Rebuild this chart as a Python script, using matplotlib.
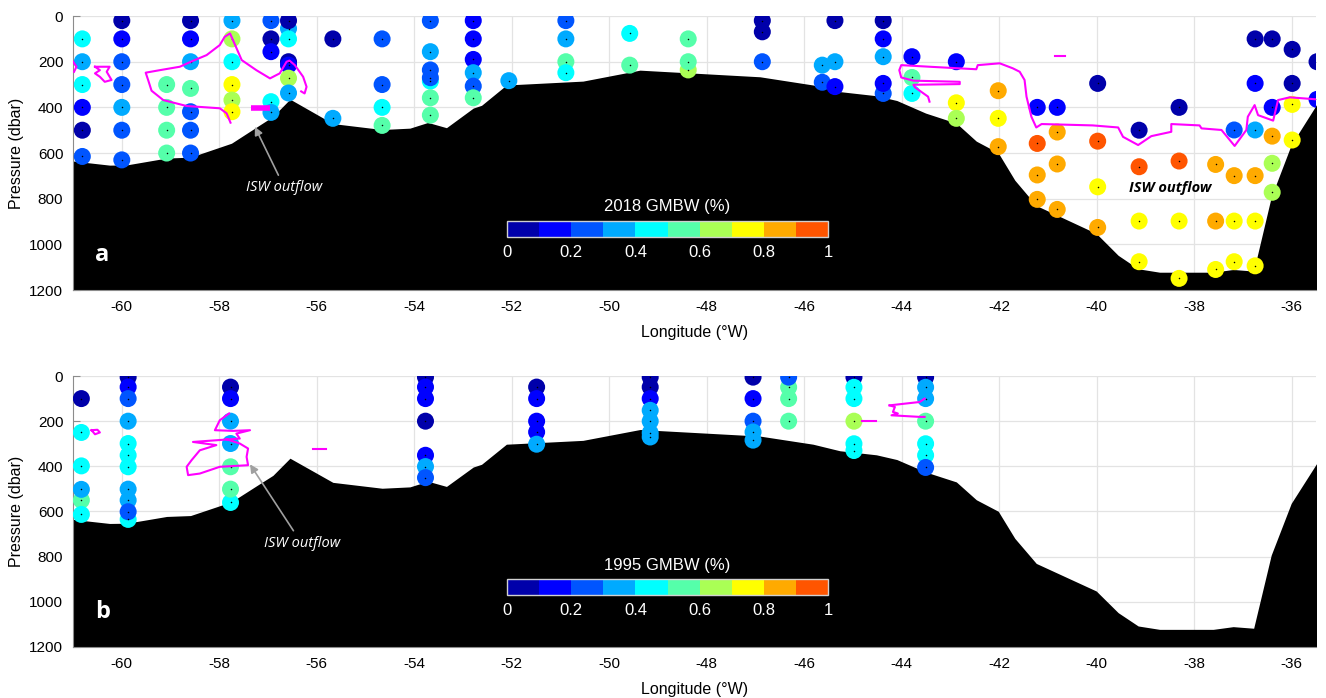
import numpy as np
import matplotlib.pyplot as plt
from matplotlib.colors import ListedColormap, BoundaryNorm
from matplotlib.cm import ScalarMappable

plt.rcParams['font.family'] = ['Liberation Sans', 'DejaVu Sans']
plt.rcParams['axes.unicode_minus'] = False

# discrete GMBW colour classes, 0..1 in steps of 0.1
gmbw_colors = ['#0000aa', '#0000ff', '#0055ff', '#00aaff', '#00ffff',
               '#55ffaa', '#aaff55', '#ffff00', '#ffaa00', '#ff5500']
cbar_ticks = [0, 0.2, 0.4, 0.6, 0.8, 1]
cbar_labels = ['0', '0.2', '0.4', '0.6', '0.8', '1']
lon_ticks = [-60, -58, -56, -54, -52, -50, -48, -46, -44, -42, -40, -38, -36]
pres_ticks = [0, 200, 400, 600, 800, 1000, 1200]

# sea floor along the section
bathy_lon = [-61.0, -60.25, -59.9, -59.08, -58.59, -57.75, -57.17, -56.9, -56.55,
             -55.67, -54.66, -54.09, -53.72, -53.34, -52.79, -52.62, -52.11,
             -50.54, -49.37, -46.91, -45.82, -45.27, -44.52, -44.1, -43.51,
             -42.88, -42.47, -42.02, -41.68, -41.24, -40.01, -39.56, -39.15,
             -38.71, -37.61, -37.2, -36.78, -36.42, -36.01, -35.49]
bathy_pres = [635, 653, 652, 622, 618, 557, 477, 440, 364,
              471, 497, 491, 466, 489, 403, 391, 302,
              285, 237, 266, 302, 331, 349, 370, 425,
              469, 548, 599, 719, 830, 952, 1048, 1107,
              1122, 1122, 1110, 1117, 793, 564, 388]

# 2018 samples (station by station)
lon_2018 = ([-60.81] * 6 + [-60.0] * 7 + [-59.08] * 4 + [-58.59] * 7 + [-57.74] * 6
            + [-56.94] * 5 + [-56.58] * 7 + [-55.67] * 2 + [-54.66] * 4 + [-53.67] * 7
            + [-52.79] * 6 + [-52.06] + [-50.89] * 4 + [-49.58] * 2 + [-48.38] * 3
            + [-46.86] * 3 + [-45.63] * 2 + [-45.37] * 3 + [-44.38] * 5 + [-43.79] * 3
            + [-42.88] * 3 + [-42.02] * 3 + [-41.22] * 4 + [-40.81] * 4 + [-39.98] * 4
            + [-39.13] * 4 + [-38.31] * 4 + [-37.56] * 3 + [-37.18] * 4 + [-36.75] * 6
            + [-36.4] * 5 + [-35.99] * 4 + [-35.48] * 2)
pres_2018 = [100, 200, 300, 400, 500, 615,
             20, 100, 200, 300, 400, 500, 630,
             300, 400, 500, 600,
             20, 100, 200, 317, 419, 500, 600,
             20, 100, 200, 300, 368, 419,
             20, 100, 156, 375, 422,
             55, 20, 100, 200, 215, 272, 337,
             100, 448,
             100, 300, 400, 479,
             285, 20, 156, 236, 270, 358, 434,
             20, 100, 190, 248, 307, 358,
             283,
             20, 100, 200, 248,
             76, 215,
             100, 236, 200,
             20, 69, 200,
             215, 290,
             20, 200, 309,
             20, 100, 178, 339, 295,
             178, 339, 269,
             200, 380, 448,
             327, 448, 572,
             400, 558, 696, 803,
             400, 508, 648, 847,
             295, 548, 748, 926,
             500, 660, 898, 1076,
             400, 635, 898, 1149,
             650, 898, 1110,
             499, 699, 898, 1076,
             100, 295, 499, 699, 898, 1094,
             100, 400, 526, 645, 772,
             146, 295, 387, 543,
             200, 365]
gmbw_2018 = [.45, .35, .45, .15, .05, .25,
             .05, .15, .25, .25, .35, .25, .25,
             .55, .55, .55, .55,
             .05, .15, .35, .55, .25, .25, .25,
             .35, .65, .45, .75, .65, .75,
             .25, .05, .15, .45, .35,
             .35, .05, .45, .05, .15, .65, .35,
             .05, .35,
             .25, .25, .45, .55,
             .45, .25, .35, .25, .25, .55, .55,
             .15, .15, .15, .35, .25, .55,
             .35,
             .25, .35, .55, .45,
             .45, .55,
             .55, .65, .55,
             .05, .05, .25,
             .35, .25,
             .05, .35, .15,
             .05, .15, .35, .25, .15,
             .15, .45, .55,
             .15, .75, .65,
             .85, .75, .85,
             .15, .95, .85, .85,
             .15, .85, .85, .85,
             .05, .95, .75, .85,
             .05, .95, .75, .75,
             .05, .95, .75, .75,
             .85, .85, .75,
             .25, .85, .75, .75,
             .05, .15, .35, .85, .75, .75,
             .05, .15, .85, .65, .65,
             .05, .05, .75, .75,
             .05, .15]

# 1995 samples
lon_1995 = ([-60.83] * 6 + [-59.87] * 11 + [-57.77] * 7 + [-53.77] * 7 + [-51.49] * 5
            + [-49.16] * 7 + [-47.05] * 5 + [-46.32] * 4 + [-44.98] * 6 + [-43.51] * 7)
pres_1995 = [100, 250, 398, 550, 502, 613,
             5, 49, 100, 200, 299, 351, 402, 501, 550, 635, 601,
             49, 100, 200, 299, 560, 402, 501,
             5, 49, 100, 200, 351, 401, 450,
             49, 100, 200, 248, 302,
             5, 49, 100, 152, 200, 252, 270,
             5, 100, 200, 248, 284,
             50, 100, 200, 5,
             5, 50, 100, 200, 300, 330,
             5, 50, 100, 200, 300, 351, 405]
gmbw_1995 = [.05, .45, .45, .55, .35, .45,
             .05, .15, .25, .35, .45, .45, .45, .35, .35, .45, .25,
             .05, .15, .35, .35, .45, .55, .55,
             .05, .15, .15, .05, .15, .35, .25,
             .05, .15, .15, .15, .35,
             .05, .05, .15, .35, .35, .35, .35,
             .05, .15, .25, .35, .35,
             .55, .55, .55, .25,
             .05, .45, .45, .65, .45, .45,
             .05, .35, .35, .55, .45, .45, .25]

# ISW outflow boundary (magenta), one list per line piece
isw_lon_2018 = [
    [-61.0, -60.93, -60.98],
    [-60.55, -60.25, -60.31, -60.21, -60.35, -60.45, -60.55, -60.45, -60.55],
    [-57.77, -57.85, -57.99, -58.67, -59.15, -59.39, -59.46, -59.51, -59.22, -58.81,
     -58.54, -58.26, -57.99, -57.89, -57.78, -57.72, -57.54, -57.24, -56.96, -56.76,
     -56.62, -56.56, -56.45, -56.28, -56.21, -56.25, -56.32],
    [-43.43, -43.46, -43.73, -43.76, -42.81, -42.81, -43.76, -44.01, -44.05, -44.01,
     -43.43, -42.47, -42.44, -41.99, -41.72, -41.58, -41.48, -41.44, -41.34, -41.24,
     -41.13, -40.08, -39.56, -39.46, -39.15, -38.88, -38.47, -38.47, -37.89, -37.85,
     -37.44, -37.17, -36.93, -36.9, -36.76, -36.69, -36.38, -36.28, -36.04, -35.48],
    [-40.86, -40.66],
]
isw_pres_2018 = [
    [200, 222, 244],
    [222, 222, 244, 280, 288, 266, 251, 237, 222],
    [467, 426, 404, 394, 368, 327, 280, 248, 237, 222,
     196, 171, 127, 91, 76, 105, 193, 237, 273, 251,
     200, 195, 215, 266, 310, 339, 330],
    [375, 353, 312, 301, 298, 288, 283, 269, 237, 215,
     222, 233, 215, 207, 229, 244, 280, 353, 441, 488,
     473, 479, 488, 529, 565, 526, 507, 473, 479, 492,
     499, 569, 499, 441, 390, 434, 458, 368, 356, 365],
    [175, 175],
]
# short thick piece next to the -57 station
isw_bar_lon = [-57.34, -56.95]
isw_bar_pres = [404, 404]

isw_lon_1995 = [
    [-60.62, -60.5, -60.45, -60.55, -60.62],
    [-57.8, -57.99, -58.09, -57.72, -57.37, -57.65, -57.58, -58.54, -58.06, -58.4,
     -58.57, -58.67, -58.64, -58.4, -57.99, -57.41, -57.44, -57.41, -57.58, -57.85],
    [-56.08, -55.82],
    [-44.81, -44.52],
    [-44.25, -43.63, -43.53],
    [-44.25, -44.14, -44.18, -44.08, -44.21, -43.63, -43.53],
]
isw_pres_1995 = [
    [240, 238, 250, 258, 240],
    [166, 196, 240, 243, 240, 255, 277, 292, 306, 329,
     373, 402, 439, 432, 402, 395, 358, 321, 299, 280],
    [323, 323],
    [200, 200],
    [130, 115, 100],
    [130, 137, 159, 166, 174, 181, 181],
]

cmap = ListedColormap(gmbw_colors)
norm = BoundaryNorm(np.linspace(0, 1, 11), cmap.N)

fig = plt.figure(figsize=(13.26, 6.98), dpi=100)
ax_a = fig.add_axes([0.0551, 0.5845, 0.9374, 0.3925])
ax_b = fig.add_axes([0.0551, 0.0731, 0.9374, 0.3882])


def draw_panel(ax, lon, pres, gmbw, c_lon, c_pres, year, letter, cbar_box):
    ax.fill_between(bathy_lon, bathy_pres, 1300, color='black', lw=0, zorder=2)
    ax.scatter(lon, pres, c=gmbw, cmap=cmap, norm=norm, s=150, lw=0, zorder=3)
    ax.scatter(lon, pres, c='black', s=1.2, lw=0, zorder=4)
    for xs, ys in zip(c_lon, c_pres):
        ax.plot(xs, ys, color='#ff00ff', lw=1.5, zorder=5)

    ax.set_xlim(-61, -35.5)
    ax.set_ylim(1200, 0)
    ax.set_xticks(lon_ticks)
    ax.set_yticks(pres_ticks)
    ax.grid(True, color='#e3e3e3', lw=0.9, zorder=0)
    ax.set_axisbelow(True)
    for s in ['top', 'right']:
        ax.spines[s].set_visible(False)
    for s in ['left', 'bottom']:
        ax.spines[s].set_color('#8c8c8c')
    ax.tick_params(direction='in', length=5, color='#8c8c8c', labelsize=11, pad=7)
    ax.set_xlabel('Longitude (°W)', fontsize=11.5, labelpad=8)
    ax.set_ylabel('Pressure (dbar)', fontsize=11.5, labelpad=4)

    ax.text(-60.4, 1045, letter, color='white', fontsize=17, fontweight='bold',
            family=['Open Sans', 'DejaVu Sans'], ha='center', va='center', zorder=6)

    cax = fig.add_axes(cbar_box)
    cb = fig.colorbar(ScalarMappable(norm=norm, cmap=cmap), cax=cax,
                      orientation='horizontal', ticks=cbar_ticks)
    cb.ax.set_xticklabels(cbar_labels)
    cb.outline.set_edgecolor('#d0d0d0')
    cb.outline.set_linewidth(1)
    cax.tick_params(colors='white', length=0, labelsize=12, pad=6)
    cax.set_title(year + ' GMBW (%)', color='white', fontsize=12, pad=7)


draw_panel(ax_a, lon_2018, pres_2018, gmbw_2018, isw_lon_2018, isw_pres_2018,
           '2018', 'a', [0.3824, 0.6605, 0.2421, 0.0229])
draw_panel(ax_b, lon_1995, pres_1995, gmbw_1995, isw_lon_1995, isw_pres_1995,
           '1995', 'b', [0.3824, 0.1476, 0.2421, 0.0225])
ax_a.plot(isw_bar_lon, isw_bar_pres, color='#ff00ff', lw=4, solid_capstyle='butt', zorder=5)

# ISW outflow annotations
arrow = dict(arrowstyle='-|>', color='#a0a0a0', lw=1.2, mutation_scale=12, shrinkA=2, shrinkB=0)
ax_a.annotate('ISW outflow', xy=(-57.27, 485), xytext=(-56.66, 753), color='white',
              style='italic', fontsize=10.5, family=['Open Sans', 'DejaVu Sans'],
              ha='center', va='center', arrowprops=arrow, zorder=6)
ax_a.text(-38.5, 752, 'ISW outflow', color='black', style='italic', fontweight='bold',
          fontsize=10.5, family=['Open Sans', 'DejaVu Sans'], ha='center', va='center',
          zorder=6)
ax_b.annotate('ISW outflow', xy=(-57.37, 391), xytext=(-56.31, 741), color='white',
              style='italic', fontsize=10.5, family=['Open Sans', 'DejaVu Sans'],
              ha='center', va='center', arrowprops=arrow, zorder=6)

fig.savefig('out.png', dpi=100)
